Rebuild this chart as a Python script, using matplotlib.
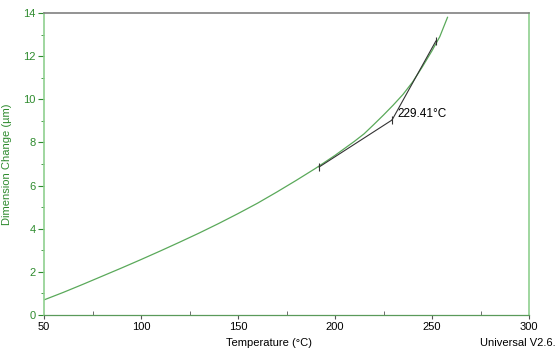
import matplotlib
matplotlib.use("Agg")
import matplotlib.pyplot as plt
from matplotlib.ticker import MultipleLocator

plt.rcParams['font.family'] = ['Liberation Sans', 'DejaVu Sans']

# Data
temperature = [50, 60, 70, 80, 90, 100, 110, 120, 130, 140, 150, 160, 170,
               180, 190, 200, 210, 215, 220, 225, 230, 235, 240, 245, 250, 254, 258]
dimension = [0.70, 1.05, 1.42, 1.80, 2.18, 2.57, 2.97, 3.38, 3.80, 4.24, 4.70,
             5.18, 5.70, 6.24, 6.80, 7.40, 8.05, 8.40, 8.83, 9.27, 9.73, 10.22,
             10.80, 11.50, 12.25, 12.90, 13.80]

lower_tangent_T = [191.8, 229.41]
lower_tangent_D = [6.86, 9.04]
upper_tangent_T = [229.41, 252.0]
upper_tangent_D = [9.04, 12.70]
onset_label = "229.41°C"

green_curve = "#5aa95a"
green_axis = "#8fd08f"
green_text = "#2e8b2e"

fig = plt.figure(figsize=(5.56, 3.60), dpi=100)
ax = fig.add_axes([44/556, 1-315/360, (529-44)/556, (315-13)/360])

ax.plot(temperature, dimension, color=green_curve, lw=0.9)
ax.plot(lower_tangent_T, lower_tangent_D, color="#333333", lw=0.8)
ax.plot(upper_tangent_T, upper_tangent_D, color="#333333", lw=0.8)
ax.plot([lower_tangent_T[0], lower_tangent_T[1], upper_tangent_T[1]],
        [lower_tangent_D[0], lower_tangent_D[1], upper_tangent_D[1]],
        ls="none", marker="|", ms=6, mew=0.8, color="#333333")
ax.text(upper_tangent_T[0] + 3.0, 9.32, onset_label,
        fontsize=8.5, color="black", va="center", ha="left")

ax.set_xlim(50, 300)
ax.set_ylim(0, 14)
ax.xaxis.set_major_locator(MultipleLocator(50))
ax.xaxis.set_minor_locator(MultipleLocator(25))
ax.yaxis.set_major_locator(MultipleLocator(2))
ax.yaxis.set_minor_locator(MultipleLocator(1))

ax.tick_params(axis="x", which="major", direction="out", length=3,
               color="#555555", labelsize=8, labelcolor="black", pad=2)
ax.tick_params(axis="x", which="minor", direction="in", length=3, color="#555555")
ax.tick_params(axis="y", which="major", direction="out", length=4,
               color=green_text, labelsize=8, labelcolor=green_text, pad=2)
ax.tick_params(axis="y", which="minor", direction="out", length=2.5, color=green_text)

for s in ["left", "right", "bottom"]:
    ax.spines[s].set_color(green_axis)
    ax.spines[s].set_linewidth(1.2)
ax.spines["bottom"].set_color("#5a9a5a")
ax.spines["bottom"].set_linewidth(0.9)
ax.spines["top"].set_color("#808080")
ax.spines["top"].set_linewidth(1.2)

fig.text(7/556, 1-164/360, "Dimension Change (µm)", rotation=90, color=green_text,
         fontsize=8, ha="center", va="center")
fig.text(269/556, 1-343/360, "Temperature (°C)", color="black", fontsize=8,
         ha="center", va="center")
fig.text(556/556, 1-343/360, "Universal V2.6.", color="black", fontsize=8,
         ha="right", va="center")

fig.savefig("out.png", dpi=100)
